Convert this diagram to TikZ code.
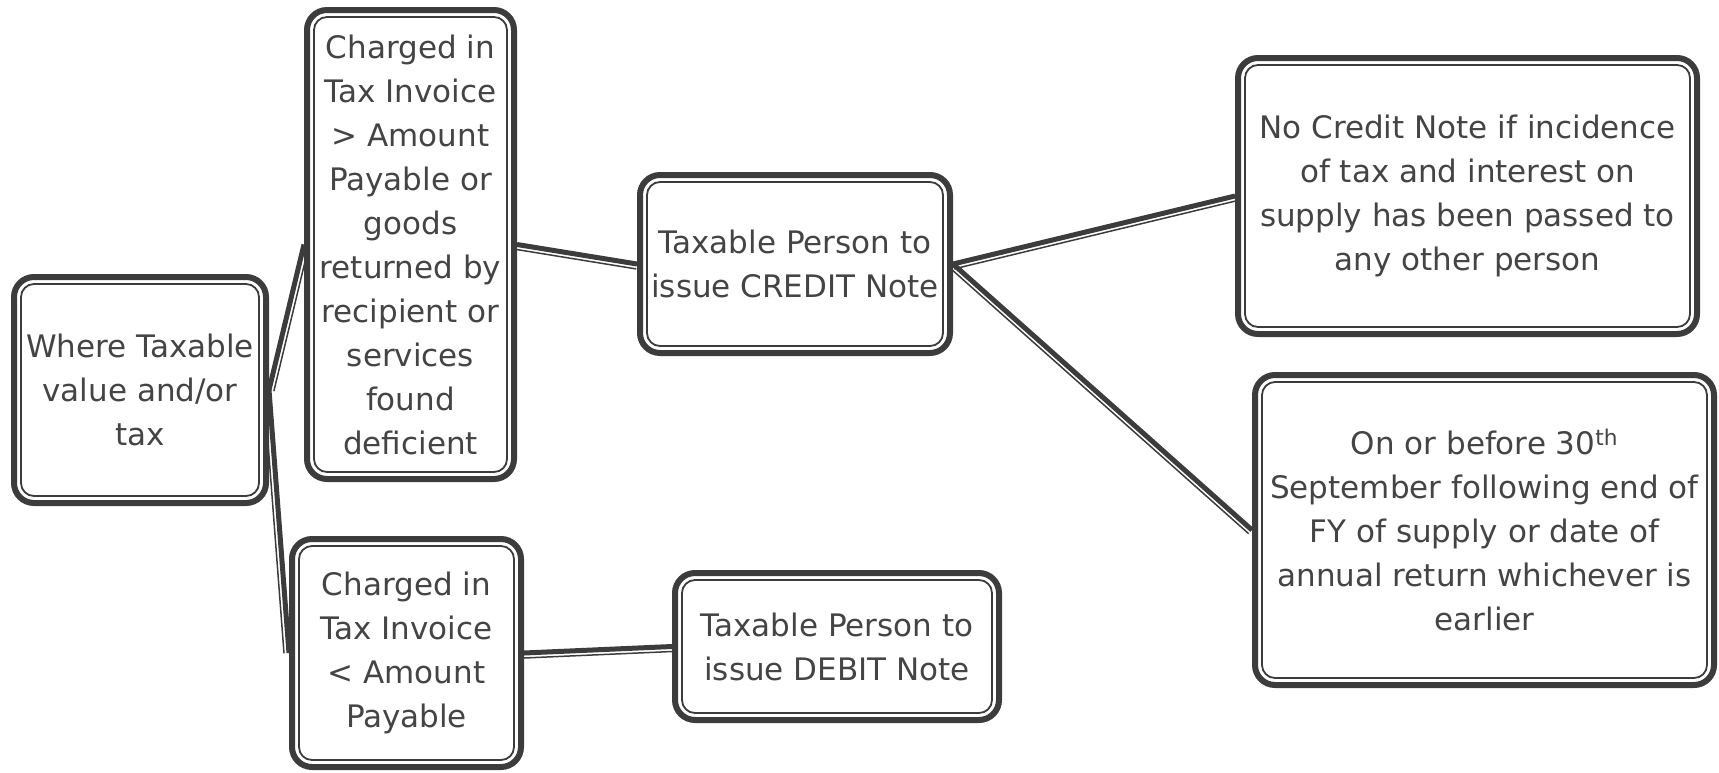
\documentclass[tikz,border=0pt]{standalone}
\usepackage{fontspec}
\setmainfont{DejaVu Sans}
\usetikzlibrary{calc,backgrounds}
\definecolor{ink}{HTML}{444444}
\definecolor{rim}{HTML}{3C3C3C}

\begin{document}
\begin{tikzpicture}[x=1pt,y=-1pt]
    % Define styles
    \tikzset{
        note/.style={rectangle, draw=rim, line width=6pt, rounded corners=20pt, fill=white, text=ink, align=center, inner sep=0pt, font=\fontsize{31}{44}\selectfont},
        innerrim/.style={draw=rim, line width=1.8pt, rounded corners=13pt},
        link/.style={draw=rim, line width=5pt},
        linkthin/.style={draw=rim, line width=1.5pt}
    }
    \useasboundingbox (0,0) rectangle (1719,772);

    % Nodes
    \node[note, minimum width=252pt, minimum height=226pt] (where) at (140,390) {Where Taxable\\value and/or\\tax};
    \node[note, minimum width=207pt, minimum height=469pt] (over) at (410.5,244.5) {Charged in\\Tax Invoice\\> Amount\\Payable or\\goods\\returned by\\recipient or\\services\\found\\deficient};
    \node[note, minimum width=229pt, minimum height=228pt] (under) at (406.5,653) {Charged in\\Tax Invoice\\< Amount\\Payable};
    \node[note, minimum width=310pt, minimum height=178pt] (credit) at (795,264) {Taxable Person to\\issue CREDIT Note};
    \node[note, minimum width=324pt, minimum height=147pt] (debit) at (837,646.5) {Taxable Person to\\issue DEBIT Note};
    \node[note, minimum width=459pt, minimum height=276pt] (nocredit) at (1467.5,196) {No Credit Note if incidence\\of tax and interest on\\supply has been passed to\\any other person};
    \node[note, minimum width=459pt, minimum height=310pt] (deadline) at (1484.5,530) {On or before 30\textsuperscript{th}\\September following end of\\FY of supply or date of\\annual return whichever is\\earlier};

    % Inner borders
    \foreach \nd in {where,over,under,credit,debit,nocredit,deadline}
        \draw[innerrim] ($(\nd.north west)+(10pt,-10pt)$) rectangle ($(\nd.south east)+(-10pt,10pt)$);

    % Connectors
    \begin{scope}[on background layer]
        \draw[link] (where.east) -- (over.west);
        \draw[linkthin] ($(where.east)!5pt!-90:(over.west)$) -- ($(over.west)!5pt!90:(where.east)$);
        \draw[link] (where.east) -- (under.west);
        \draw[linkthin] ($(where.east)!5pt!-90:(under.west)$) -- ($(under.west)!5pt!90:(where.east)$);
        \draw[link] (over.east) -- (credit.west);
        \draw[linkthin] ($(over.east)!5pt!-90:(credit.west)$) -- ($(credit.west)!5pt!90:(over.east)$);
        \draw[link] (under.east) -- (debit.west);
        \draw[linkthin] ($(under.east)!5pt!-90:(debit.west)$) -- ($(debit.west)!5pt!90:(under.east)$);
        \draw[link] (credit.east) -- (nocredit.west);
        \draw[linkthin] ($(credit.east)!5pt!-90:(nocredit.west)$) -- ($(nocredit.west)!5pt!90:(credit.east)$);
        \draw[link] (credit.east) -- (deadline.west);
        \draw[linkthin] ($(credit.east)!5pt!-90:(deadline.west)$) -- ($(deadline.west)!5pt!90:(credit.east)$);
    \end{scope}
\end{tikzpicture}
\end{document}
